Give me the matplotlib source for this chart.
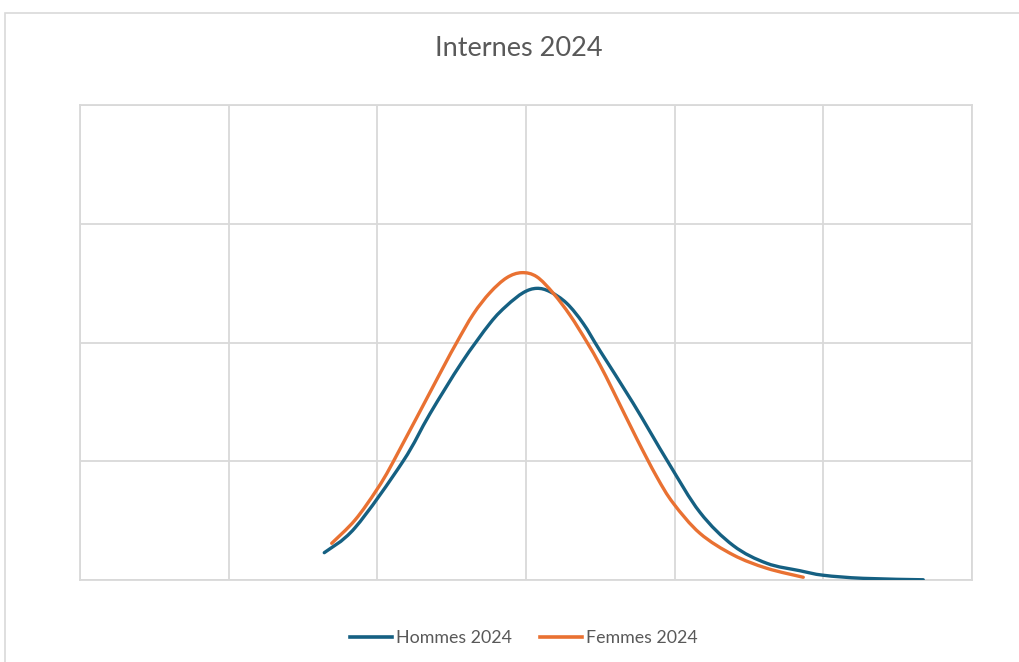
import numpy as np
import matplotlib
matplotlib.use("Agg")
import matplotlib.pyplot as plt
from matplotlib.path import Path
from matplotlib.patches import PathPatch, Rectangle
from matplotlib.lines import Line2D

# values (grid units, no tick labels shown)
hommes_x = [1.643, 1.850, 2.173, 2.354, 2.567, 2.758, 2.870, 2.982, 3.072, 3.161,
            3.274, 3.385, 3.498, 3.720, 3.957, 4.170, 4.394, 4.619, 4.843, 5.000,
            5.269, 5.672]
hommes_y = [0.230, 0.440, 1.000, 1.400, 1.830, 2.162, 2.310, 2.420, 2.456, 2.428,
            2.330, 2.160, 1.930, 1.490, 0.990, 0.570, 0.290, 0.141, 0.078, 0.040,
            0.014, 0.002]

femmes_x = [1.693, 1.850, 1.996, 2.107, 2.422, 2.534, 2.646, 2.758, 2.870, 2.971,
            3.072, 3.184, 3.296, 3.408, 3.498, 3.587, 3.745, 3.879, 3.991, 4.170,
            4.394, 4.619, 4.865]
femmes_y = [0.309, 0.505, 0.760, 0.996, 1.741, 2.000, 2.240, 2.420, 2.545, 2.588,
            2.554, 2.414, 2.230, 2.007, 1.810, 1.590, 1.190, 0.870, 0.646, 0.393,
            0.211, 0.099, 0.023]

labels = ["Hommes 2024", "Femmes 2024"]
colors = ["#156082", "#E97132"]
grey = "#D9D9D9"
text_grey = "#595959"


def smooth_path(xs, ys, t=1 / 6):
    # Excel-like smoothed line: Catmull-Rom segments as cubic Beziers
    p = np.column_stack([xs, ys])
    verts = [p[0]]
    codes = [Path.MOVETO]
    n = len(p)
    for i in range(n - 1):
        p0 = p[i - 1] if i > 0 else p[i]
        p3 = p[i + 2] if i + 2 < n else p[i + 1]
        c1 = p[i] + (p[i + 1] - p0) * t
        c2 = p[i + 1] - (p3 - p[i]) * t
        verts += [c1, c2, p[i + 1]]
        codes += [Path.CURVE4] * 3
    return Path(verts, codes)


fig = plt.figure(figsize=(10.19, 6.62), dpi=100)
fig.patches.append(Rectangle((5 / 1019, -0.1), 1.2, 1 - 13 / 662 + 0.1,
                             transform=fig.transFigure, fill=False,
                             edgecolor=grey, linewidth=1.2))

ax = fig.add_axes([80 / 1019, 82 / 662, 892 / 1019, 475 / 662])
ax.set_xlim(0, 6)
ax.set_ylim(0, 4)
ax.set_xticks(range(7))
ax.set_yticks(range(5))
ax.tick_params(length=0, labelbottom=False, labelleft=False)
ax.grid(True, color=grey, linewidth=1.3)
for s in ax.spines.values():
    s.set_color(grey)
    s.set_linewidth(1.3)

for xs, ys, c in [(hommes_x, hommes_y, colors[0]), (femmes_x, femmes_y, colors[1])]:
    ax.add_patch(PathPatch(smooth_path(xs, ys), facecolor="none", edgecolor=c,
                           linewidth=2.4, capstyle="round", zorder=3))

fig.text(519 / 1019, 1 - 48 / 662, "Internes 2024", ha="center", va="center",
         fontsize=19.5, color=text_grey, family="Lato")

handles = [Line2D([], [], color=c, linewidth=2.6) for c in colors]
fig.legend(handles, labels, loc="center", bbox_to_anchor=(524 / 1019, 1 - 638 / 662),
           ncol=2, frameon=False, labelcolor=text_grey,
           prop={"family": "Lato", "size": 12.8}, handlelength=2.36,
           handletextpad=0.22, columnspacing=1.6)

fig.savefig("out.png", dpi=100, facecolor="white")
